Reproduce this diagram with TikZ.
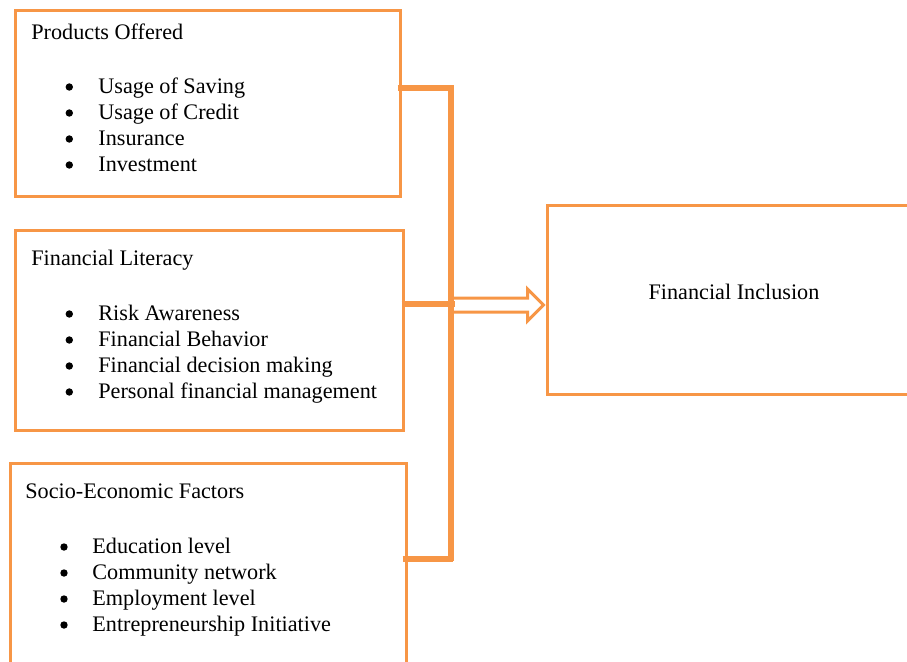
\documentclass[tikz,border=0pt]{standalone}
\usepackage{fontspec}
\setmainfont{Liberation Serif}
\usetikzlibrary{calc,fit}
\definecolor{accentorange}{HTML}{F79646}

\begin{document}
\begin{tikzpicture}[x=0.5pt, y=-0.5pt,
          box/.style={draw=accentorange, line width=1.5pt, inner sep=0pt},
          head/.style={anchor=base west, inner sep=0pt, font=\fontsize{11.1}{13}\selectfont},
          item/.style={anchor=base west, inner sep=0pt, font=\fontsize{11.1}{13}\selectfont},
          dot/.style={fill=black},
          bar/.style={draw=accentorange, line width=2.7pt},
          hollow/.style={draw=accentorange, line width=1.5pt, line join=miter}
        ]
        \useasboundingbox (0,0) rectangle (907,661);
        \clip (0,0) rectangle (907,661);

        % factor boxes
        \node[box, fit={(15,10) (400,196)}]  (po) {};
        \node[box, fit={(15,230) (403,430)}] (fl) {};
        \node[box, fit={(10,463) (406,690)}] (sf) {};
        \node[box, fit={(547,205) (930,394)}] (fi) {};

        \node[head] (po-t) at (31,39) {Products Offered};
        \foreach \txt [count=\i] in {Usage of Saving, Usage of Credit, Insurance, Investment} {
          \fill[dot] (69.3,87+26*\i-26) circle (3.7);
          \node[item] (po-\i) at (98,93.5+26*\i-26) {\txt};
        }

        \node[head] (fl-t) at (31,265.5) {Financial Literacy};
        \foreach \txt [count=\i] in {Risk Awareness, Financial Behavior, Financial decision making, Personal financial management} {
          \fill[dot] (69.3,314+26*\i-26) circle (3.7);
          \node[item] (fl-\i) at (98,320.5+26*\i-26) {\txt};
        }

        \node[head] (sf-t) at (25,498.5) {Socio-Economic Factors};
        \foreach \txt [count=\i] in {Education level, Community network, Employment level, Entrepreneurship Initiative} {
          \fill[dot] (64,547+26*\i-26) circle (3.7);
          \node[item] (sf-\i) at (92,553.5+26*\i-26) {\txt};
        }

        \node[head, anchor=base] (fi-t) at (734,299.5) {Financial Inclusion};

        % bracket joining the three boxes
        \coordinate (bartop) at (451,88);
        \coordinate (barbot) at (451,561);
        \coordinate (j1) at (454,88);
        \coordinate (j2) at (455,304);
        \coordinate (j3) at (453,559);
        \draw[bar] (bartop) -- (barbot);
        \draw[bar] ($(po.east |- j1)+(-4,0)$) -- (j1);
        \draw[bar] ($(fl.east |- j2)+(-3,0)$) -- (j2);
        \draw[bar] ($(sf.east |- j3)+(-5,0)$) -- (j3);

        % open arrow into the outcome box
        \coordinate (tip) at ($(fi.west |- 0,305)+(-2,0)$);
        \draw[hollow] ($(tip)+(-92,-7)$) -- ($(tip)+(-16,-7)$) -- ($(tip)+(-16,-16)$)
          -- (tip) -- ($(tip)+(-16,16)$) -- ($(tip)+(-16,7)$) -- ($(tip)+(-92,7)$);
      \end{tikzpicture}
\end{document}
